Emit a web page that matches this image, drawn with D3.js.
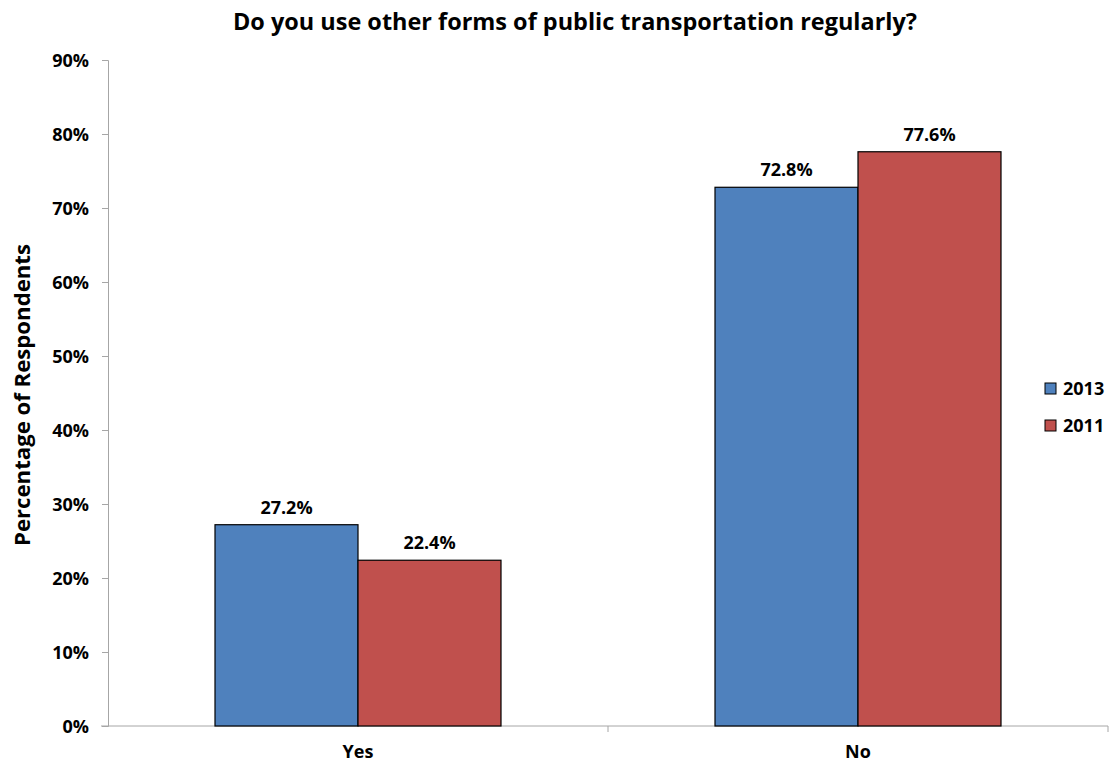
<!DOCTYPE html>
<html>
<head>
<meta charset="utf-8">
<script src="https://cdn.jsdelivr.net/npm/d3@7/dist/d3.min.js"></script>
<style>
  html, body { margin: 0; padding: 0; background: #fff; }
  svg text { font-family: "Open Sans", "DejaVu Sans", sans-serif; font-weight: bold; fill: #000; }
</style>
</head>
<body>
<svg id="chart" width="1114" height="768"></svg>
<script>
// Survey answers by year
const categories = ["Yes", "No"];
const seriesNames = ["2013", "2011"];
const values2013 = [27.2, 72.8];
const values2011 = [22.4, 77.6];
const yTicks = [0, 10, 20, 30, 40, 50, 60, 70, 80, 90];
const colors = ["#4F81BD", "#C0504D"];

const rows = categories.map((c, i) => ({ category: c, values: [values2013[i], values2011[i]] }));

const svg = d3.select("#chart");
const margin = { left: 108, right: 6, top: 60, bottom: 42 };
const width = 1114, height = 768;

const x = d3.scaleBand().domain(categories).range([margin.left, width - margin.right]).paddingInner(0).paddingOuter(0);
const y = d3.scaleLinear().domain([0, 90]).range([height - margin.bottom, margin.top]);

const groupWidth = x.bandwidth() * 0.572;
const xInner = d3.scaleBand().domain(seriesNames)
  .range([(x.bandwidth() - groupWidth) / 2, (x.bandwidth() + groupWidth) / 2]);

// Title
svg.append("text")
  .attr("x", 575).attr("y", 30)
  .attr("text-anchor", "middle")
  .style("font-size", "23px")
  .attr("textLength", 684)
  .attr("lengthAdjust", "spacingAndGlyphs")
  .text("Do you use other forms of public transportation regularly?");

// Y axis
const yAxis = svg.append("g")
  .attr("transform", `translate(${margin.left},0)`)
  .call(d3.axisLeft(y).tickValues(yTicks).tickFormat(d => d + "%").tickSize(6).tickPadding(13));
yAxis.select(".domain").attr("stroke", "#a6a6a6");
yAxis.selectAll(".tick line").attr("stroke", "#a6a6a6");
yAxis.selectAll(".tick text").style("font-size", "18px").style("font-family", "'Open Sans', sans-serif")
  .attr("dy", "0.34em");

// X axis
const xAxis = svg.append("g")
  .attr("transform", `translate(0,${y(0)})`)
  .call(d3.axisBottom(x).tickSize(0).tickPadding(19));
xAxis.select(".domain").attr("stroke", "#a6a6a6").attr("d", `M${margin.left - 7},0H${width - margin.right}`);
xAxis.selectAll(".tick text").style("font-size", "18px").style("font-family", "'Open Sans', sans-serif");
// category boundary ticks
const bounds = [x.range()[0] + x.bandwidth(), x.range()[1]];
svg.append("g").selectAll("line").data(bounds).join("line")
  .attr("x1", d => d).attr("x2", d => d)
  .attr("y1", y(0)).attr("y2", y(0) + 6)
  .attr("stroke", "#a6a6a6");

// Y axis title
svg.append("text")
  .attr("transform", `translate(30,${(y(0) + y(90)) / 2 + 2}) rotate(-90)`)
  .attr("text-anchor", "middle")
  .style("font-size", "21px")
  .attr("textLength", 302)
  .attr("lengthAdjust", "spacingAndGlyphs")
  .text("Percentage of Respondents");

// Bars
const groups = svg.append("g").selectAll("g").data(rows).join("g")
  .attr("transform", d => `translate(${x(d.category)},0)`);

groups.selectAll("rect").data(d => d.values.map((v, i) => ({ key: seriesNames[i], v, i }))).join("rect")
  .attr("x", d => xInner(d.key))
  .attr("y", d => y(d.v))
  .attr("width", xInner.bandwidth())
  .attr("height", d => y(0) - y(d.v))
  .attr("fill", d => colors[d.i])
  .attr("stroke", "#000")
  .attr("stroke-width", 1.2);

groups.selectAll("text.val").data(d => d.values.map((v, i) => ({ key: seriesNames[i], v, i }))).join("text")
  .attr("class", "val")
  .attr("x", d => xInner(d.key) + xInner.bandwidth() / 2)
  .attr("y", d => y(d.v) - 11)
  .attr("text-anchor", "middle")
  .style("font-size", "18px")
  .text(d => d.v.toFixed(1) + "%");

// Legend
const legend = svg.append("g").selectAll("g").data(seriesNames).join("g")
  .attr("transform", (d, i) => `translate(1045,${383 + i * 37})`);
legend.append("rect")
  .attr("width", 11).attr("height", 11)
  .attr("fill", (d, i) => colors[i])
  .attr("stroke", "#000").attr("stroke-width", 1);
legend.append("text")
  .attr("x", 18).attr("y", 12)
  .style("font-size", "18px")
  .text(d => d);
</script>
</body>
</html>
